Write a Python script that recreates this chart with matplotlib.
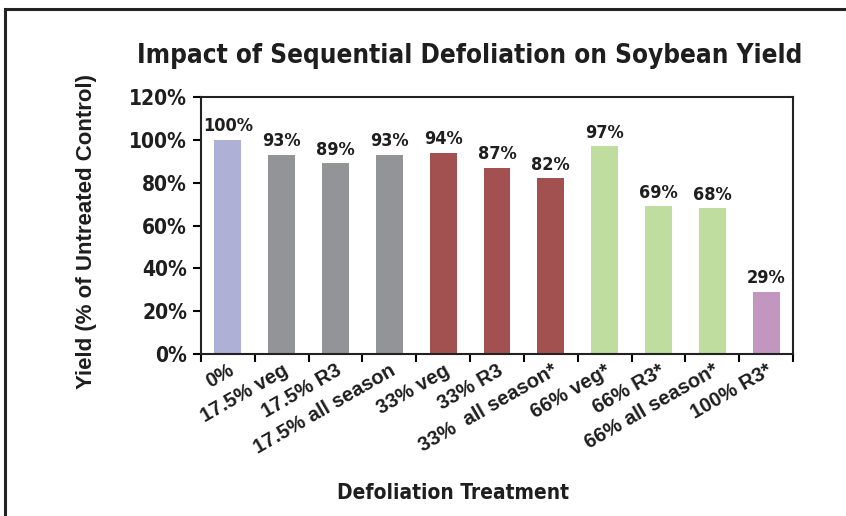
import matplotlib.pyplot as plt
from matplotlib.patches import Rectangle

treatments = ["0%", "17.5% veg", "17.5% R3", "17.5% all season", "33% veg", "33% R3",
              "33%  all season*", "66% veg*", "66% R3*", "66% all season*", "100% R3*"]
yields = [100, 93, 89, 93, 94, 87, 82, 97, 69, 68, 29]
colors = ["#aeb0d6", "#929497", "#929497", "#929497", "#a35050", "#a35050",
          "#a35050", "#bedd9f", "#bedd9f", "#bedd9f", "#c396c0"]
yticks = [0, 20, 40, 60, 80, 100, 120]

cond = dict(family="DejaVu Sans", stretch="condensed", weight="bold", color="#1e1e1e")
helv = dict(family="Liberation Sans", weight="bold", color="#1e1e1e")

fig = plt.figure(figsize=(8.46, 5.16), dpi=100)
fig.patches.append(Rectangle((5 / 846, -0.1), 1.2, 1 - 9 / 516 + 0.1, transform=fig.transFigure,
                             fill=False, edgecolor="#222222", linewidth=2.2))

ax = fig.add_axes([201 / 846, 1 - 354 / 516, (793 - 201) / 846, (354 - 97) / 516])
x = list(range(len(treatments)))
ax.bar(x, yields, width=0.5, color=colors)
for xi, v in zip(x, yields):
    ax.text(xi, v + 2.2, f"{v}%", ha="center", va="bottom", fontsize=13, **cond)

ax.set_xlim(-0.5, len(treatments) - 0.5)
ax.set_ylim(0, 120)
ax.set_yticks(yticks)
ax.set_yticklabels([f"{t}%" for t in yticks], fontsize=15, **cond)
ax.set_xticks([i - 0.5 for i in range(len(treatments) + 1)])
ax.set_xticklabels([])
ax.set_xticks(x, minor=True)
ax.set_xticklabels(treatments, minor=True, rotation=30, ha="right", rotation_mode="anchor",
                   fontsize=14.5, **helv)
ax.tick_params(axis="x", which="minor", length=0, pad=5)
ax.tick_params(axis="x", which="major", length=6, width=1.5, direction="out")
ax.tick_params(axis="y", length=6, width=1.5, direction="out", pad=4)
for s in ax.spines.values():
    s.set_linewidth(1.5)
    s.set_color("#222222")

ax.set_ylabel("Yield (% of Untreated Control)", fontsize=16, **helv)
ax.yaxis.set_label_coords(-0.176, 0.475)
fig.text(470 / 846, 1 - 56 / 516, "Impact of Sequential Defoliation on Soybean Yield",
         ha="center", va="center", fontsize=18.7, **cond)
fig.text(453 / 846, 1 - 493 / 516, "Defoliation Treatment", ha="center", va="center",
         fontsize=15, **cond)

fig.savefig("out.png", dpi=100)
